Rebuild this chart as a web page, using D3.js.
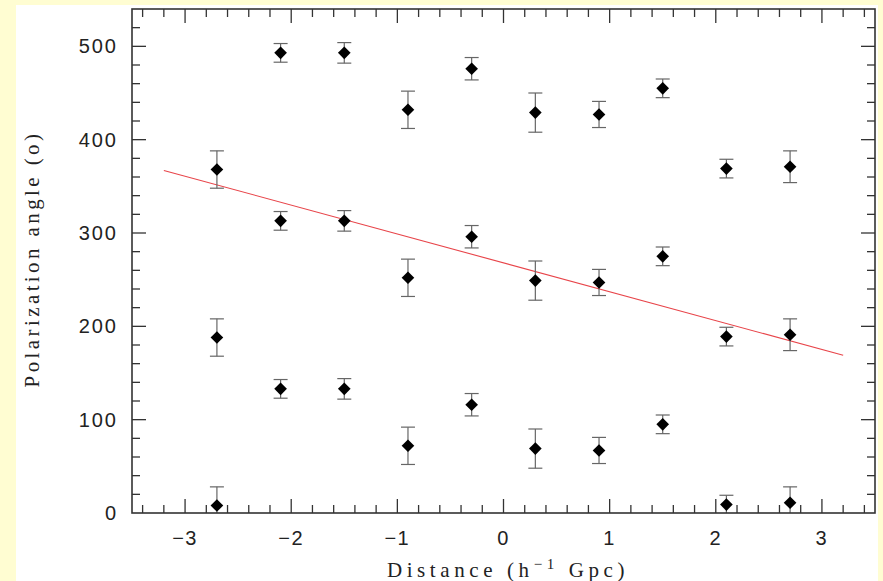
<!DOCTYPE html>
<html><head><meta charset="utf-8">
<script src="https://cdn.jsdelivr.net/npm/d3@7"></script>
<style>body{margin:0;background:#fffdd2;} svg{display:block;}</style>
</head><body>
<svg id="c" width="883" height="581"></svg>
<script>
const distances = [-2.7, -2.1, -1.5, -0.9, -0.3, 0.3, 0.9, 1.5, 2.1, 2.7];
const angleLow  = [8, 133, 133, 72, 116, 69, 67, 95, 9, 11];
const angleMid  = [188, 313, 313, 252, 296, 249, 247, 275, 189, 191];
const angleHigh = [368, 493, 493, 432, 476, 429, 427, 455, 369, 371];
const angleErr  = [20, 10, 11, 20, 12, 21, 14, 10, 10, 17];
const fitX = [-3.2, 3.2];
const fitY = [367, 169];
const xTicks = [-3, -2, -1, 0, 1, 2, 3];
const yTicks = [0, 100, 200, 300, 400, 500];

const svg = d3.select("#c");
svg.append("rect").attr("x",16).attr("y",5).attr("width",862).attr("height",576).attr("fill","#fff");

const x = d3.scaleLinear().domain([-3.5,3.5]).range([132,875]);
const y = d3.scaleLinear().domain([0,540]).range([513,9]);

const points = [];
distances.forEach((d,i)=>{
  [angleLow[i], angleMid[i], angleHigh[i]].forEach(a=>points.push({x:d,y:a,e:angleErr[i]}));
});

svg.append("clipPath").attr("id","pc").append("rect")
  .attr("x",132).attr("y",9).attr("width",743).attr("height",504);
const plot = svg.append("g").attr("clip-path","url(#pc)");

// fit line
plot.append("line")
  .attr("x1",x(fitX[0])).attr("y1",y(fitY[0]))
  .attr("x2",x(fitX[1])).attr("y2",y(fitY[1]))
  .attr("stroke","#e8454a").attr("stroke-width",1.1);

const eg = plot.append("g").attr("stroke","#666").attr("stroke-width",1.2);
points.forEach(p=>{
  const cx = x(p.x);
  eg.append("line").attr("x1",cx).attr("x2",cx).attr("y1",y(p.y-p.e)).attr("y2",y(p.y+p.e));
  eg.append("line").attr("x1",cx-7).attr("x2",cx+7).attr("y1",y(p.y-p.e)).attr("y2",y(p.y-p.e));
  eg.append("line").attr("x1",cx-7).attr("x2",cx+7).attr("y1",y(p.y+p.e)).attr("y2",y(p.y+p.e));
});
const sym = d3.symbol().type(d3.symbolSquare).size(80);
plot.selectAll("path.pt").data(points).join("path").attr("class","pt")
  .attr("d",sym).attr("transform",p=>`translate(${x(p.x)},${y(p.y)}) rotate(45)`)
  .attr("fill","#000");

// ticks (inward on all sides)
const axG = svg.append("g").attr("stroke","#333").attr("stroke-width",1.3);
const xMinor = d3.range(-34,35,2).map(v=>v/10);
xMinor.forEach(v=>{
  const major = Math.abs(v-Math.round(v))<1e-6;
  const L = major?14:8;
  axG.append("line").attr("x1",x(v)).attr("x2",x(v)).attr("y1",513).attr("y2",513-L);
  axG.append("line").attr("x1",x(v)).attr("x2",x(v)).attr("y1",9).attr("y2",9+L);
});
d3.range(20,540,20).forEach(v=>{
  const major = v%100===0;
  const L = major?14:8;
  axG.append("line").attr("y1",y(v)).attr("y2",y(v)).attr("x1",132).attr("x2",132+L);
  axG.append("line").attr("y1",y(v)).attr("y2",y(v)).attr("x1",875).attr("x2",875-L);
});
svg.append("rect").attr("x",132).attr("y",9).attr("width",743).attr("height",504)
  .attr("fill","none").attr("stroke","#333").attr("stroke-width",1.6);

// tick labels
const tickFont = "'Liberation Sans', Arial, sans-serif";
svg.append("g").selectAll("text").data(xTicks).join("text")
  .attr("x",d=>x(d)).attr("y",545).attr("text-anchor","middle")
  .attr("font-family",tickFont).attr("font-size",20).attr("letter-spacing",1.5).attr("fill","#222")
  .text(d=>d<0?"\u2212"+Math.abs(d):d);
svg.append("g").selectAll("text").data(yTicks).join("text")
  .attr("x",118).attr("y",d=>y(d)+7).attr("text-anchor","end")
  .attr("font-family",tickFont).attr("font-size",20).attr("letter-spacing",2).attr("fill","#222")
  .text(d=>d);

// titles
const titleFont = "'Liberation Serif', 'DejaVu Serif', serif";
const xt = svg.append("text").attr("x",508).attr("y",577).attr("text-anchor","middle")
  .attr("font-family",titleFont).attr("font-size",21).attr("letter-spacing",4.6).attr("fill","#222");
xt.append("tspan").text("Distance (h");
xt.append("tspan").attr("dy",-8).attr("font-size",15).text("\u22121");
xt.append("tspan").attr("dy",8).text(" Gpc)");

svg.append("text").attr("transform","translate(39,259) rotate(-90)").attr("text-anchor","middle")
  .attr("font-family",titleFont).attr("font-size",21).attr("letter-spacing",3.4).attr("fill","#222")
  .text("Polarization angle (o)");
</script>
</body></html>
